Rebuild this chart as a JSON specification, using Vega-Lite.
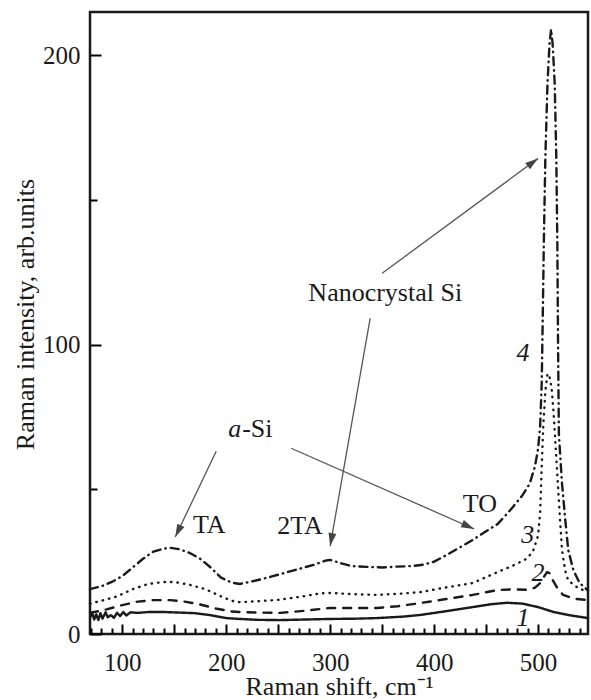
{
  "$schema": "https://vega.github.io/schema/vega-lite/v6.json",
  "width": 498,
  "height": 622,
  "autosize": "none",
  "padding": {"left": 90, "top": 12, "right": 3, "bottom": 66},
  "background": "white",
  "config": {
    "font": "Liberation Serif",
    "view": {"stroke": "#1a1a1a", "strokeWidth": 2.5},
    "axis": {
      "domain": false,
      "grid": false,
      "ticks": true,
      "zindex": 1,
      "labelFont": "Liberation Serif",
      "titleFont": "Liberation Serif",
      "labelFontSize": 25,
      "titleFontSize": 26,
      "titleFontWeight": "normal",
      "labelColor": "#1a1a1a",
      "titleColor": "#1a1a1a",
      "tickColor": "#000000",
      "tickOpacity": 1,
      "tickWidth": 2,
      "labelFlush": false
    }
  },
  "resolve": {"axis": {"x": "independent", "y": "independent"}},
  "datasets": {
    "curves": [
      {"curve": "4", "x": 69, "y": 15.5}, {"curve": "4", "x": 80, "y": 16.5}, {"curve": "4", "x": 90, "y": 18}, {"curve": "4", "x": 100, "y": 20}, {"curve": "4", "x": 110, "y": 23}, {"curve": "4", "x": 120, "y": 26}, {"curve": "4", "x": 130, "y": 28.5}, {"curve": "4", "x": 140, "y": 29.5}, {"curve": "4", "x": 146, "y": 29.8}, {"curve": "4", "x": 155, "y": 29.3}, {"curve": "4", "x": 165, "y": 28}, {"curve": "4", "x": 175, "y": 26}, {"curve": "4", "x": 185, "y": 23}, {"curve": "4", "x": 195, "y": 19.5}, {"curve": "4", "x": 205, "y": 17.8}, {"curve": "4", "x": 213, "y": 17.3}, {"curve": "4", "x": 225, "y": 18.2}, {"curve": "4", "x": 240, "y": 19.5}, {"curve": "4", "x": 255, "y": 21}, {"curve": "4", "x": 270, "y": 22.5}, {"curve": "4", "x": 285, "y": 24}, {"curve": "4", "x": 295, "y": 25.3}, {"curve": "4", "x": 300, "y": 25.6}, {"curve": "4", "x": 310, "y": 24.5}, {"curve": "4", "x": 320, "y": 23.5}, {"curve": "4", "x": 335, "y": 23.2}, {"curve": "4", "x": 350, "y": 23}, {"curve": "4", "x": 365, "y": 23.3}, {"curve": "4", "x": 380, "y": 23.5}, {"curve": "4", "x": 390, "y": 24}, {"curve": "4", "x": 400, "y": 25}, {"curve": "4", "x": 412, "y": 27.3}, {"curve": "4", "x": 425, "y": 30}, {"curve": "4", "x": 437, "y": 32.5}, {"curve": "4", "x": 450, "y": 35.5}, {"curve": "4", "x": 461, "y": 38}, {"curve": "4", "x": 470, "y": 41.5}, {"curve": "4", "x": 476, "y": 44}, {"curve": "4", "x": 485, "y": 48}, {"curve": "4", "x": 492, "y": 52}, {"curve": "4", "x": 497, "y": 58}, {"curve": "4", "x": 500, "y": 64}, {"curve": "4", "x": 502, "y": 72}, {"curve": "4", "x": 503.5, "y": 87}, {"curve": "4", "x": 504.5, "y": 110}, {"curve": "4", "x": 505.5, "y": 135}, {"curve": "4", "x": 507, "y": 165}, {"curve": "4", "x": 509, "y": 190}, {"curve": "4", "x": 511, "y": 204}, {"curve": "4", "x": 512.5, "y": 209}, {"curve": "4", "x": 514, "y": 204}, {"curve": "4", "x": 516, "y": 190}, {"curve": "4", "x": 517.5, "y": 165}, {"curve": "4", "x": 518.5, "y": 135}, {"curve": "4", "x": 519.2, "y": 100}, {"curve": "4", "x": 520, "y": 69}, {"curve": "4", "x": 523, "y": 52}, {"curve": "4", "x": 526, "y": 40}, {"curve": "4", "x": 529, "y": 29}, {"curve": "4", "x": 534, "y": 22}, {"curve": "4", "x": 540, "y": 17.6}, {"curve": "4", "x": 548, "y": 15},
      {"curve": "3", "x": 69, "y": 10.5}, {"curve": "3", "x": 80, "y": 11.5}, {"curve": "3", "x": 95, "y": 13}, {"curve": "3", "x": 110, "y": 15.5}, {"curve": "3", "x": 125, "y": 17.3}, {"curve": "3", "x": 140, "y": 18}, {"curve": "3", "x": 150, "y": 18}, {"curve": "3", "x": 165, "y": 17}, {"curve": "3", "x": 180, "y": 15.5}, {"curve": "3", "x": 195, "y": 13}, {"curve": "3", "x": 205, "y": 11.5}, {"curve": "3", "x": 213, "y": 11}, {"curve": "3", "x": 230, "y": 11.3}, {"curve": "3", "x": 250, "y": 11.8}, {"curve": "3", "x": 270, "y": 12.8}, {"curve": "3", "x": 290, "y": 14}, {"curve": "3", "x": 300, "y": 14.2}, {"curve": "3", "x": 320, "y": 13.8}, {"curve": "3", "x": 345, "y": 13.5}, {"curve": "3", "x": 370, "y": 14}, {"curve": "3", "x": 387, "y": 14.5}, {"curve": "3", "x": 410, "y": 16}, {"curve": "3", "x": 437, "y": 17.6}, {"curve": "3", "x": 461, "y": 21.4}, {"curve": "3", "x": 475, "y": 23.5}, {"curve": "3", "x": 489, "y": 26}, {"curve": "3", "x": 495, "y": 28.5}, {"curve": "3", "x": 500, "y": 34}, {"curve": "3", "x": 502, "y": 42}, {"curve": "3", "x": 503.5, "y": 58}, {"curve": "3", "x": 505, "y": 72}, {"curve": "3", "x": 507, "y": 84}, {"curve": "3", "x": 509, "y": 90}, {"curve": "3", "x": 511, "y": 89}, {"curve": "3", "x": 513, "y": 85}, {"curve": "3", "x": 515, "y": 76}, {"curve": "3", "x": 517, "y": 64}, {"curve": "3", "x": 519, "y": 52}, {"curve": "3", "x": 521, "y": 40}, {"curve": "3", "x": 523, "y": 29}, {"curve": "3", "x": 526, "y": 22}, {"curve": "3", "x": 529, "y": 18.5}, {"curve": "3", "x": 538, "y": 16}, {"curve": "3", "x": 548, "y": 14.5},
      {"curve": "2", "x": 69, "y": 7.3}, {"curve": "2", "x": 85, "y": 8.5}, {"curve": "2", "x": 100, "y": 10}, {"curve": "2", "x": 115, "y": 11.2}, {"curve": "2", "x": 130, "y": 11.7}, {"curve": "2", "x": 146, "y": 11.7}, {"curve": "2", "x": 160, "y": 11.2}, {"curve": "2", "x": 175, "y": 10.2}, {"curve": "2", "x": 190, "y": 8.8}, {"curve": "2", "x": 205, "y": 7.8}, {"curve": "2", "x": 213, "y": 7.6}, {"curve": "2", "x": 230, "y": 7.4}, {"curve": "2", "x": 252, "y": 7.3}, {"curve": "2", "x": 275, "y": 8}, {"curve": "2", "x": 300, "y": 9}, {"curve": "2", "x": 325, "y": 9}, {"curve": "2", "x": 345, "y": 9}, {"curve": "2", "x": 365, "y": 9.6}, {"curve": "2", "x": 387, "y": 10.7}, {"curve": "2", "x": 410, "y": 12}, {"curve": "2", "x": 437, "y": 13.5}, {"curve": "2", "x": 461, "y": 15.2}, {"curve": "2", "x": 475, "y": 15.4}, {"curve": "2", "x": 489, "y": 15.3}, {"curve": "2", "x": 497, "y": 16}, {"curve": "2", "x": 502, "y": 17.6}, {"curve": "2", "x": 506, "y": 20}, {"curve": "2", "x": 508.6, "y": 21.4}, {"curve": "2", "x": 511, "y": 21}, {"curve": "2", "x": 513, "y": 19.3}, {"curve": "2", "x": 518, "y": 16.2}, {"curve": "2", "x": 524, "y": 13.5}, {"curve": "2", "x": 535, "y": 12.2}, {"curve": "2", "x": 548, "y": 11.7},
      {"curve": "1", "x": 69, "y": 5.5}, {"curve": "1", "x": 71, "y": 7.5}, {"curve": "1", "x": 73, "y": 5}, {"curve": "1", "x": 75, "y": 6.8}, {"curve": "1", "x": 77, "y": 4.8}, {"curve": "1", "x": 79, "y": 7.2}, {"curve": "1", "x": 81, "y": 5.3}, {"curve": "1", "x": 84, "y": 7.5}, {"curve": "1", "x": 86, "y": 5.8}, {"curve": "1", "x": 89, "y": 6.5}, {"curve": "1", "x": 92, "y": 5.6}, {"curve": "1", "x": 95, "y": 7.3}, {"curve": "1", "x": 98, "y": 6.2}, {"curve": "1", "x": 101, "y": 7.6}, {"curve": "1", "x": 104, "y": 6.4}, {"curve": "1", "x": 108, "y": 7.5}, {"curve": "1", "x": 115, "y": 7.3}, {"curve": "1", "x": 125, "y": 7.6}, {"curve": "1", "x": 140, "y": 7.6}, {"curve": "1", "x": 155, "y": 7.4}, {"curve": "1", "x": 170, "y": 7.2}, {"curve": "1", "x": 185, "y": 6.5}, {"curve": "1", "x": 200, "y": 5.5}, {"curve": "1", "x": 213, "y": 5.2}, {"curve": "1", "x": 230, "y": 4.9}, {"curve": "1", "x": 252, "y": 4.8}, {"curve": "1", "x": 275, "y": 5}, {"curve": "1", "x": 300, "y": 5.2}, {"curve": "1", "x": 325, "y": 5.3}, {"curve": "1", "x": 345, "y": 5.5}, {"curve": "1", "x": 370, "y": 6}, {"curve": "1", "x": 387, "y": 6.6}, {"curve": "1", "x": 410, "y": 7.8}, {"curve": "1", "x": 437, "y": 9.3}, {"curve": "1", "x": 455, "y": 10.3}, {"curve": "1", "x": 470, "y": 10.8}, {"curve": "1", "x": 485, "y": 10.5}, {"curve": "1", "x": 500, "y": 9.3}, {"curve": "1", "x": 515, "y": 7.6}, {"curve": "1", "x": 530, "y": 6.5}, {"curve": "1", "x": 548, "y": 5.5}
    ],
    "arrows": [
      {"x": 350, "y": 124.7, "x2": 500, "y2": 164.4, "angle": 53.6},
      {"x": 338.5, "y": 109.2, "x2": 300, "y2": 30.4, "angle": 190},
      {"x": 190.4, "y": 63.2, "x2": 151, "y2": 33.5, "angle": 205.5},
      {"x": 262.5, "y": 64.2, "x2": 438.5, "y2": 36.3, "angle": 113.9}
    ],
    "annot": [
      {"x": 353, "y": 117.8, "label": "Nanocrystal Si"},
      {"x": 183.7, "y": 37.6, "label": "TA"},
      {"x": 271, "y": 37.3, "label": "2TA"},
      {"x": 444, "y": 44.9, "label": "TO"}
    ],
    "asi": [
      {"x": 214.4, "y": 70.8, "part": "a"},
      {"x": 214.4, "y": 70.8, "part": "-Si"}
    ],
    "nums": [
      {"x": 485.6, "y": 97, "label": "4"},
      {"x": 490, "y": 34.2, "label": "3"},
      {"x": 500, "y": 21, "label": "2"},
      {"x": 485.6, "y": 5.5, "label": "1"}
    ]
  },
  "layer": [
    {
      "data": {"name": "curves"},
      "mark": {"type": "line", "color": "#1a1a1a", "strokeWidth": 2.4, "strokeCap": "round", "strokeJoin": "round"},
      "encoding": {
        "x": {
          "field": "x", "type": "quantitative",
          "scale": {"domain": [69, 548], "nice": false, "zero": false},
          "axis": {
            "orient": "bottom",
            "offset": -10,
            "values": [100, 200, 300, 400, 500],
            "tickSize": 10,
            "labelPadding": 16,
            "labelBaseline": "top",
            "title": "Raman shift, cm⁻¹",
            "titleY": 70,
            "titleBaseline": "alphabetic"
          }
        },
        "y": {
          "field": "y", "type": "quantitative",
          "scale": {"domain": [0, 215], "nice": false, "zero": false},
          "axis": {
            "orient": "left",
            "offset": -11,
            "values": [0, 100, 200],
            "tickSize": 11,
            "labelPadding": 10,
            "labelBaseline": "middle",
            "title": "Raman intensity, arb.units",
            "titleX": -68,
            "titleY": 302,
            "titleAngle": -90,
            "titleAlign": "center",
            "titleBaseline": "alphabetic"
          }
        },
        "detail": {"field": "curve", "type": "nominal"},
        "strokeDash": {
          "field": "curve", "type": "nominal",
          "scale": {"domain": ["1", "2", "3", "4"], "range": [[1, 0], [8, 8], [0.5, 6], [8, 5, 0.5, 5]]},
          "legend": null
        }
      }
    },
    {
      "data": {"name": "arrows"},
      "mark": {"type": "rule", "color": "#555555", "strokeWidth": 1.3},
      "encoding": {
        "x": {"field": "x", "type": "quantitative", "axis": {"orient": "bottom", "offset": -10, "values": [150, 250, 350, 450], "tickSize": 10, "labels": false, "title": null}},
        "y": {"field": "y", "type": "quantitative", "axis": {"orient": "left", "offset": -7, "values": [50, 150], "tickSize": 7, "labels": false, "title": null}},
        "x2": {"field": "x2"},
        "y2": {"field": "y2"}
      }
    },
    {
      "data": {"name": "arrows"},
      "mark": {"type": "point", "shape": "M0,0L-0.4,1.3L0.4,1.3Z", "filled": true, "color": "#444444", "size": 400, "opacity": 1},
      "encoding": {
        "x": {"field": "x2", "type": "quantitative", "axis": {"orient": "bottom", "offset": -6, "values": [70, 80, 90, 110, 120, 130, 140, 160, 170, 180, 190, 210, 220, 230, 240, 260, 270, 280, 290, 310, 320, 330, 340, 360, 370, 380, 390, 410, 420, 430, 440, 460, 470, 480, 490, 510, 520, 530, 540], "tickSize": 6, "labels": false, "title": null}},
        "y": {"field": "y2", "type": "quantitative", "axis": null},
        "angle": {"field": "angle", "type": "quantitative", "scale": null}
      }
    },
    {
      "data": {"name": "annot"},
      "mark": {"type": "text", "font": "Liberation Serif", "fontSize": 26, "color": "#1a1a1a", "align": "center", "baseline": "middle"},
      "encoding": {
        "x": {"field": "x", "type": "quantitative", "axis": null},
        "y": {"field": "y", "type": "quantitative", "axis": null},
        "text": {"field": "label"}
      }
    },
    {
      "data": {"name": "asi"},
      "transform": [{"filter": "datum.part === 'a'"}],
      "mark": {"type": "text", "font": "Liberation Serif", "fontSize": 26, "fontStyle": "italic", "color": "#1a1a1a", "align": "right", "baseline": "middle"},
      "encoding": {
        "x": {"field": "x", "type": "quantitative", "axis": null},
        "y": {"field": "y", "type": "quantitative", "axis": null},
        "text": {"field": "part"}
      }
    },
    {
      "data": {"name": "asi"},
      "transform": [{"filter": "datum.part === '-Si'"}],
      "mark": {"type": "text", "font": "Liberation Serif", "fontSize": 26, "color": "#1a1a1a", "align": "left", "baseline": "middle", "dx": 1},
      "encoding": {
        "x": {"field": "x", "type": "quantitative", "axis": null},
        "y": {"field": "y", "type": "quantitative", "axis": null},
        "text": {"field": "part"}
      }
    },
    {
      "data": {"name": "nums"},
      "mark": {"type": "text", "font": "Liberation Serif", "fontSize": 26, "fontStyle": "italic", "color": "#1a1a1a", "align": "center", "baseline": "middle"},
      "encoding": {
        "x": {"field": "x", "type": "quantitative", "axis": null},
        "y": {"field": "y", "type": "quantitative", "axis": null},
        "text": {"field": "label"}
      }
    }
  ]
}
